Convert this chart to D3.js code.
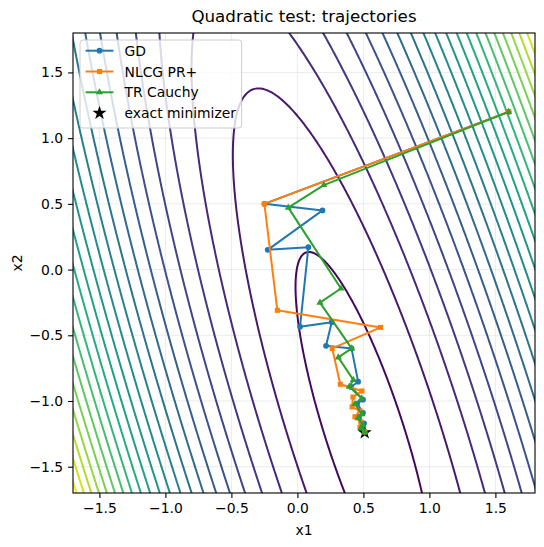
<!DOCTYPE html>
<html>
<head>
<meta charset="utf-8">
<script src="https://cdn.jsdelivr.net/npm/d3@7"></script>
<style>
    html, body { margin: 0; padding: 0; background: #fff; }
    svg { display: block; font-family: 'DejaVu Sans', sans-serif; }
</style>
</head>
<body>
<div id="main-container"></div>
<script>
// Axis data
const X_DOMAIN = [-1.7, 1.8];
const Y_DOMAIN = [-1.7, 1.8];
const X_TICKS = [-1.5, -1.0, -0.5, 0.0, 0.5, 1.0, 1.5];
const Y_TICKS = [-1.5, -1.0, -0.5, 0.0, 0.5, 1.0, 1.5];

// Quadratic: f(x) = 0.5 (x - x*)' H (x - x*) + F_MIN
const HESSIAN = [[7.9, 2.43], [2.43, 1.15]];
const MINIMIZER = [0.51, -1.24];
const F_MIN = -0.38;
const CONTOUR_LEVELS = [0, 1, 2, 3, 4, 5, 6, 7, 8, 9, 10, 11, 12, 13, 14, 15, 16, 17, 18, 19, 20, 21];
const COLOR_DOMAIN = [-0.5, 21.5];

// Trajectories (x1, x2)
const GD_PATH = [
    [1.60, 1.20], [-0.25, 0.50], [0.19, 0.45], [-0.225, 0.15], [0.083, 0.17],
    [0.02, -0.435], [0.26, -0.40], [0.217, -0.58], [0.41, -0.60], [0.46, -0.853],
    [0.406, -0.893], [0.497, -0.99], [0.452, -1.02], [0.497, -1.09], [0.467, -1.12],
    [0.505, -1.17], [0.49, -1.19], [0.51, -1.235]
];
const NLCG_PATH = [
    [1.60, 1.20], [-0.25, 0.50], [-0.152, -0.31], [0.63, -0.44], [0.264, -0.60],
    [0.325, -0.873], [0.489, -0.924], [0.421, -0.97], [0.414, -1.045], [0.474, -1.075],
    [0.436, -1.12], [0.48, -1.16], [0.474, -1.20], [0.51, -1.235]
];
const TR_PATH = [
    [1.60, 1.20], [0.20, 0.643], [-0.069, 0.471], [0.33, -0.144], [0.171, -0.252],
    [0.411, -0.60], [0.31, -0.668], [0.424, -0.84], [0.393, -0.891], [0.487, -0.98],
    [0.436, -1.023], [0.489, -1.10], [0.459, -1.13], [0.497, -1.183], [0.482, -1.205],
    [0.51, -1.235]
];

const SERIES = [
    { name: 'GD', color: '#1f77b4', symbol: d3.symbolCircle, size: 26, points: GD_PATH },
    { name: 'NLCG PR+', color: '#ff7f0e', symbol: d3.symbolSquare, size: 26, points: NLCG_PATH },
    { name: 'TR Cauchy', color: '#2ca02c', symbol: d3.symbolTriangle, size: 22, points: TR_PATH }
];

const SVG_WIDTH = 544;
const SVG_HEIGHT = 547;
const PLOT = { left: 73, top: 33, right: 535, bottom: 493 };
const FONT = 13.9;
const LINE_W = 2.0;

const SVG = d3.select('#main-container').append('svg')
    .attr('width', SVG_WIDTH)
    .attr('height', SVG_HEIGHT);

const xScale = d3.scaleLinear().domain(X_DOMAIN).range([PLOT.left, PLOT.right]);
const yScale = d3.scaleLinear().domain(Y_DOMAIN).range([PLOT.bottom, PLOT.top]);
const colorScale = d3.scaleSequential(d3.interpolateViridis).domain(COLOR_DOMAIN);

SVG.append('defs').append('clipPath')
    .attr('id', 'plot-clip')
    .append('rect')
    .attr('x', PLOT.left).attr('y', PLOT.top)
    .attr('width', PLOT.right - PLOT.left).attr('height', PLOT.bottom - PLOT.top);

// Grid
const grid = SVG.append('g').attr('stroke', '#e6e6e6').attr('stroke-width', 0.8);
grid.selectAll('.gx').data(X_TICKS).enter().append('line')
    .attr('x1', d => xScale(d)).attr('x2', d => xScale(d))
    .attr('y1', PLOT.top).attr('y2', PLOT.bottom);
grid.selectAll('.gy').data(Y_TICKS).enter().append('line')
    .attr('y1', d => yScale(d)).attr('y2', d => yScale(d))
    .attr('x1', PLOT.left).attr('x2', PLOT.right);

// Contour field on a padded grid (edges fall outside the clip)
const G0 = -1.9, G1 = 2.0, N = 400;
const step = (G1 - G0) / N;
const f = (x, y) => {
    const dx = x - MINIMIZER[0], dy = y - MINIMIZER[1];
    return 0.5 * (HESSIAN[0][0] * dx * dx + 2 * HESSIAN[0][1] * dx * dy + HESSIAN[1][1] * dy * dy) + F_MIN;
};
const values = new Float64Array(N * N);
for (let j = 0; j < N; j++) {
    for (let i = 0; i < N; i++) {
        values[i + j * N] = f(G0 + (i + 0.5) * step, G0 + (j + 0.5) * step);
    }
}
const contours = d3.contours().size([N, N]).thresholds(CONTOUR_LEVELS)(values);
const gridPath = d3.geoPath(d3.geoTransform({
    point: function (x, y) {
        this.stream.point(xScale(G0 + x * step), yScale(G0 + y * step));
    }
}));

SVG.append('g')
    .attr('clip-path', 'url(#plot-clip)')
    .selectAll('path')
    .data(contours)
    .enter()
    .append('path')
    .attr('d', gridPath)
    .attr('fill', 'none')
    .attr('stroke', d => colorScale(d.value))
    .attr('stroke-width', LINE_W);

// Exact minimizer (under the trajectories)
const starPath = d3.symbol().type(d3.symbolStar).size(62);
SVG.append('path')
    .attr('d', starPath())
    .attr('transform', `translate(${xScale(MINIMIZER[0])}, ${yScale(MINIMIZER[1])})`)
    .attr('fill', '#000');

// Trajectories
const line = d3.line().x(d => xScale(d[0])).y(d => yScale(d[1]));
SERIES.forEach(s => {
    const g = SVG.append('g').attr('clip-path', 'url(#plot-clip)');
    g.append('path')
        .attr('d', line(s.points))
        .attr('fill', 'none')
        .attr('stroke', s.color)
        .attr('stroke-width', LINE_W)
        .attr('stroke-linejoin', 'round');
    g.selectAll('.m').data(s.points).enter().append('path')
        .attr('d', d3.symbol().type(s.symbol).size(s.size)())
        .attr('transform', d => `translate(${xScale(d[0])}, ${yScale(d[1])})`)
        .attr('fill', s.color);
});

// Frame
SVG.append('rect')
    .attr('x', PLOT.left).attr('y', PLOT.top)
    .attr('width', PLOT.right - PLOT.left).attr('height', PLOT.bottom - PLOT.top)
    .attr('fill', 'none').attr('stroke', '#000').attr('stroke-width', 1.1);

// Axes
const fmt = d3.format('.1f');
const xAxis = SVG.append('g')
    .attr('transform', `translate(0, ${PLOT.bottom})`)
    .call(d3.axisBottom(xScale).tickValues(X_TICKS).tickFormat(fmt).tickSize(4.9).tickPadding(4.9));
const yAxis = SVG.append('g')
    .attr('transform', `translate(${PLOT.left}, 0)`)
    .call(d3.axisLeft(yScale).tickValues(Y_TICKS).tickFormat(fmt).tickSize(4.9).tickPadding(4.9));
[xAxis, yAxis].forEach(a => {
    a.select('.domain').remove();
    a.selectAll('.tick line').attr('stroke', '#000').attr('stroke-width', 1.1);
    a.selectAll('.tick text')
        .attr('fill', '#000')
        .style('font-family', "'DejaVu Sans', sans-serif")
        .style('font-size', `${FONT}px`);
});

// Labels
SVG.append('text')
    .attr('x', (PLOT.left + PLOT.right) / 2).attr('y', 22)
    .attr('text-anchor', 'middle')
    .style('font-size', '16.7px')
    .text('Quadratic test: trajectories');
SVG.append('text')
    .attr('x', (PLOT.left + PLOT.right) / 2).attr('y', 535)
    .attr('text-anchor', 'middle')
    .style('font-size', `${FONT}px`)
    .text('x1');
SVG.append('text')
    .attr('transform', `translate(22, ${(PLOT.top + PLOT.bottom) / 2}) rotate(-90)`)
    .attr('text-anchor', 'middle')
    .style('font-size', `${FONT}px`)
    .text('x2');

// Legend
const LEGEND_ITEMS = SERIES.map(s => s.name).concat(['exact minimizer']);
const legend = SVG.append('g').attr('transform', 'translate(80, 40)');
const legendBox = legend.append('rect')
    .attr('x', 0).attr('y', 0).attr('rx', 3).attr('ry', 3)
    .attr('height', 88)
    .attr('fill', '#fff').attr('fill-opacity', 0.8)
    .attr('stroke', '#cccccc').attr('stroke-width', 1);
const rows = legend.selectAll('.row').data(LEGEND_ITEMS).enter().append('g')
    .attr('transform', (d, i) => `translate(0, ${10.7 + i * 20.8})`);
rows.each(function (d, i) {
    const row = d3.select(this);
    if (i < SERIES.length) {
        const s = SERIES[i];
        row.append('line')
            .attr('x1', 5.6).attr('x2', 33.4).attr('y1', 0).attr('y2', 0)
            .attr('stroke', s.color).attr('stroke-width', LINE_W);
        row.append('path')
            .attr('d', d3.symbol().type(s.symbol).size(s.size)())
            .attr('transform', 'translate(19.5, 0)')
            .attr('fill', s.color);
    } else {
        row.append('path')
            .attr('d', starPath())
            .attr('transform', 'translate(19.5, 0)')
            .attr('fill', '#000');
    }
    row.append('text')
        .attr('x', 44.5).attr('y', 0).attr('dy', '0.36em')
        .style('font-size', `${FONT}px`)
        .text(d);
});
const maxText = d3.max(rows.selectAll('text').nodes(), n => n.getComputedTextLength());
legendBox.attr('width', 44.5 + maxText + 5.6);
</script>
</body>
</html>
